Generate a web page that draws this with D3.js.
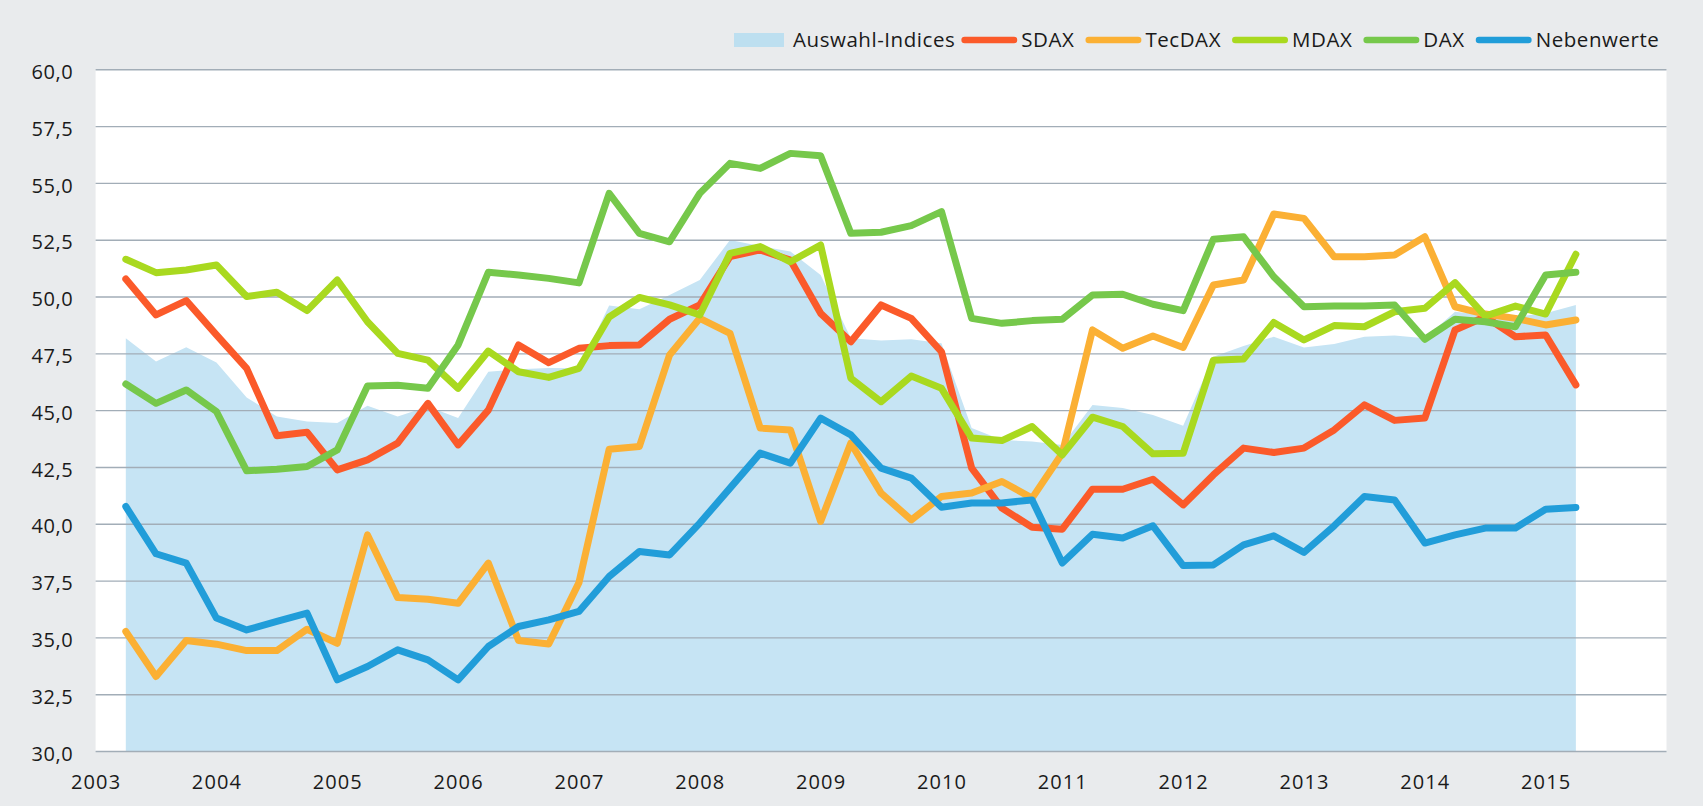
<!DOCTYPE html>
<html>
<head>
<meta charset="utf-8">
<script src="https://cdn.jsdelivr.net/npm/d3@7"></script>
<style>
  html, body { margin: 0; padding: 0; background: #e9ebed; }
  svg { display: block; font-family: "Open Sans", sans-serif; }
</style>
</head>
<body>
<div id="chart"></div>
<script>
// quarters as decimal years (2003 Q2 .. 2015 Q2)
var quarters = [2003.25, 2003.5, 2003.75,
  2004.0, 2004.25, 2004.5, 2004.75, 2005.0, 2005.25, 2005.5, 2005.75,
  2006.0, 2006.25, 2006.5, 2006.75, 2007.0, 2007.25, 2007.5, 2007.75,
  2008.0, 2008.25, 2008.5, 2008.75, 2009.0, 2009.25, 2009.5, 2009.75,
  2010.0, 2010.25, 2010.5, 2010.75, 2011.0, 2011.25, 2011.5, 2011.75,
  2012.0, 2012.25, 2012.5, 2012.75, 2013.0, 2013.25, 2013.5, 2013.75,
  2014.0, 2014.25, 2014.5, 2014.75, 2015.0, 2015.25];

var auswahl = [48.16, 47.14, 47.77, 47.1, 45.56, 44.72, 44.5, 44.43, 45.19, 44.72, 45.16, 44.65,
  46.69, 46.8, 46.85, 46.84, 49.6, 49.44, 50.07, 50.73, 52.49, 52.22, 51.98, 50.95, 48.16, 48.06,
  48.12, 47.94, 44.21, 43.69, 43.62, 43.47, 45.23, 45.09, 44.79, 44.31, 47.35, 47.82, 48.23,
  47.76, 47.91, 48.23, 48.29, 48.16, 49.33, 49.19, 49.11, 49.26, 49.63];

var sdax = [50.77, 49.19, 49.82, 48.31, 46.84, 43.87, 44.03, 42.37, 42.81, 43.55, 45.3, 43.47,
  45.0, 47.87, 47.09, 47.72, 47.84, 47.87, 49.0, 49.63, 51.76, 52.05, 51.6, 49.26, 48.01, 49.63,
  49.04, 47.57, 42.45, 40.69, 39.85, 39.76, 41.52, 41.52, 41.96, 40.83, 42.15, 43.33, 43.14,
  43.33, 44.13, 45.23, 44.55, 44.65, 48.53, 49.11, 48.23, 48.31, 46.11];

var tecdax = [35.26, 33.28, 34.86, 34.7, 34.42, 34.42, 35.36, 34.74, 39.51, 36.75, 36.68, 36.5,
  38.27, 34.86, 34.71, 37.41, 43.28, 43.4, 47.43, 49.04, 48.38, 44.21, 44.13, 40.1, 43.55, 41.35,
  40.17, 41.2, 41.35, 41.86, 41.13, 43.1, 48.53, 47.72, 48.26, 47.76, 50.51, 50.73, 53.63,
  53.44, 51.75, 51.75, 51.83, 52.63, 49.55, 49.23, 49.04, 48.75, 48.97];

var mdax = [51.64, 51.05, 51.17, 51.39, 50.0, 50.19, 49.38, 50.73, 48.89, 47.5, 47.2, 45.96,
  47.6, 46.69, 46.44, 46.84, 49.1, 49.96, 49.63, 49.19, 51.9, 52.2, 51.53, 52.27, 46.4, 45.37,
  46.5, 45.96, 43.77, 43.66, 44.28, 43.03, 44.69, 44.28, 43.08, 43.1, 47.2, 47.25, 48.86,
  48.09, 48.72, 48.67, 49.33, 49.48, 50.61, 49.14, 49.58, 49.23, 51.86];

var dax = [46.15, 45.3, 45.89, 44.94, 42.33, 42.4, 42.52, 43.25, 46.06, 46.1, 45.96, 47.87,
  51.07, 50.95, 50.8, 50.6, 54.54, 52.78, 52.41, 54.54, 55.86, 55.64, 56.3, 56.2, 52.78, 52.83,
  53.12, 53.74, 49.04, 48.82, 48.94, 49.0, 50.07, 50.1, 49.66, 49.38, 52.52, 52.63, 50.87,
  49.55, 49.58, 49.58, 49.63, 48.12, 49.0, 48.89, 48.67, 50.95, 51.07];

var nebenwerte = [40.76, 38.68, 38.27, 35.85, 35.33, 35.7, 36.07, 33.13, 33.72, 34.45, 34.01, 33.13,
  34.6, 35.48, 35.77, 36.14, 37.68, 38.78, 38.63, 40.03, 41.57, 43.11, 42.67, 44.65, 43.91, 42.45,
  42.01, 40.73, 40.91, 40.91, 41.05, 38.27, 39.54, 39.37, 39.91, 38.16, 38.19, 39.07, 39.47,
  38.74, 39.91, 41.2, 41.05, 39.15, 39.51, 39.81, 39.81, 40.64, 40.72];

var yearTicks = [2003, 2004, 2005, 2006, 2007, 2008, 2009, 2010, 2011, 2012, 2013, 2014, 2015];
var valueTicks = [30, 32.5, 35, 37.5, 40, 42.5, 45, 47.5, 50, 52.5, 55, 57.5, 60];

var lineSeries = [
  {name: "SDAX", values: sdax, color: "#fb5a2a"},
  {name: "TecDAX", values: tecdax, color: "#fbb034"},
  {name: "MDAX", values: mdax, color: "#a9d91f"},
  {name: "DAX", values: dax, color: "#76c84b"},
  {name: "Nebenwerte", values: nebenwerte, color: "#219dd9"}
];

var width = 1703,
    height = 806,
    plotLeft = 95.6,
    plotRight = 1666.5,
    plotTop = 69.3,
    plotBottom = 751,
    bg = "#e9ebed",
    gridColor = "#a2adb7";

var de = d3.formatLocale({decimal: ",", thousands: ".", grouping: [3], currency: ["", " €"]});

var x = d3.scaleLinear().domain([2003, 2016]).range([plotLeft, plotRight]);
var y = d3.scaleLinear().domain([30, 60]).range([plotBottom, plotTop]);

var svg = d3.select("#chart")
  .append("svg")
  .attr("width", width)
  .attr("height", height);

svg.append("rect")
  .attr("width", width)
  .attr("height", height)
  .attr("fill", bg);

// white plot area
svg.append("rect")
  .attr("x", plotLeft)
  .attr("y", plotTop)
  .attr("width", plotRight - plotLeft)
  .attr("height", plotBottom - plotTop)
  .attr("fill", "#fff");

// Auswahl-Indices area
var area = d3.area()
  .x(function(d, i) { return x(quarters[i]); })
  .y0(y(30))
  .y1(function(d) { return y(d); });

svg.append("path")
  .datum(auswahl)
  .attr("d", area)
  .attr("fill", "#c6e4f4");

// gridlines
svg.append("g")
  .attr("transform", "translate(" + plotLeft + ",0)")
  .call(d3.axisLeft(y).tickValues(valueTicks).tickSize(-(plotRight - plotLeft)).tickFormat(""))
  .call(function(g) {
    g.select(".domain").remove();
    g.selectAll(".tick line").attr("stroke", gridColor).attr("stroke-width", 1.4);
  });

// y labels
svg.append("g")
  .attr("transform", "translate(" + plotLeft + ",0)")
  .call(d3.axisLeft(y).tickValues(valueTicks).tickSize(0).tickPadding(22.5).tickFormat(de.format(".1f")))
  .call(function(g) {
    g.select(".domain").remove();
    g.selectAll("text")
      .attr("font-family", "'Open Sans', sans-serif")
      .attr("font-size", 20)
      .attr("letter-spacing", 0.5)
      .attr("fill", "#1a1a1a")
      .attr("dy", "0.46em");
  });

// x labels
svg.append("g")
  .attr("transform", "translate(0," + plotBottom + ")")
  .call(d3.axisBottom(x).tickValues(yearTicks).tickSize(0).tickPadding(24).tickFormat(d3.format("d")))
  .call(function(g) {
    g.select(".domain").remove();
    g.selectAll("text")
      .attr("font-family", "'Open Sans', sans-serif")
      .attr("font-size", 20)
      .attr("letter-spacing", 1.1)
      .attr("fill", "#1a1a1a");
  });

// series lines
var line = d3.line()
  .x(function(d, i) { return x(quarters[i]); })
  .y(function(d) { return y(d); });

svg.selectAll("path.series")
  .data(lineSeries)
  .enter()
  .append("path")
  .attr("class", "series")
  .attr("d", function(d) { return line(d.values); })
  .attr("fill", "none")
  .attr("stroke", function(d) { return d.color; })
  .attr("stroke-width", 7)
  .attr("stroke-linejoin", "round")
  .attr("stroke-linecap", "round");

// legend
var legend = svg.append("g").attr("class", "legend"),
    lx = 734,
    ly = 40;

legend.append("rect")
  .attr("x", lx)
  .attr("y", ly - 7)
  .attr("width", 50)
  .attr("height", 14)
  .attr("fill", "#bddff0");

function legendText(xpos, label) {
  return legend.append("text")
    .attr("x", xpos)
    .attr("y", ly + 7)
    .attr("font-size", 20.5)
    .attr("letter-spacing", 0.55)
    .attr("fill", "#1a1a1a")
    .text(label);
}

var t0 = legendText(lx + 59, "Auswahl-Indices");
lx = lx + 59 + t0.node().getComputedTextLength() + 6;

lineSeries.forEach(function(s) {
  legend.append("line")
    .attr("x1", lx + 3.3)
    .attr("x2", lx + 56 - 3.3)
    .attr("y1", ly)
    .attr("y2", ly)
    .attr("stroke", s.color)
    .attr("stroke-width", 6.5)
    .attr("stroke-linecap", "round");
  var t = legendText(lx + 60, s.name);
  lx = lx + 60 + t.node().getComputedTextLength() + 11;
});
</script>
</body>
</html>
